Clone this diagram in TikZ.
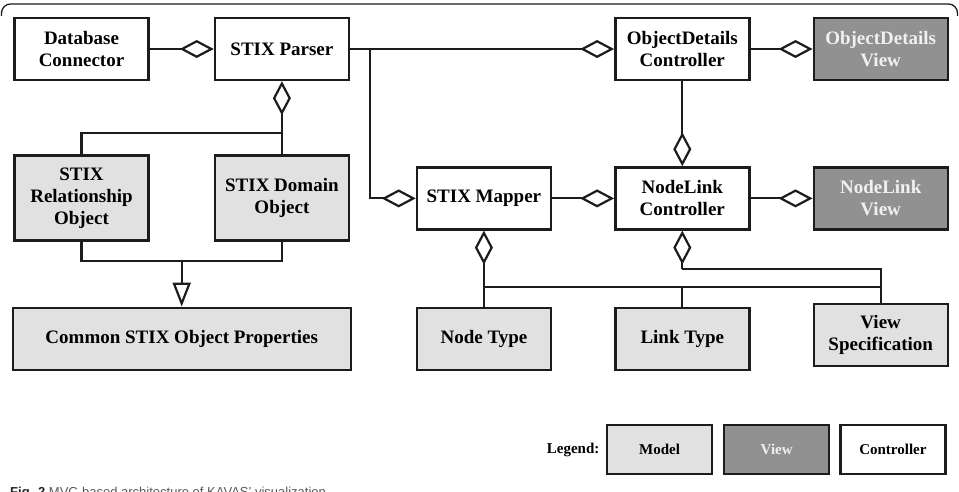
\documentclass[tikz,border=0pt]{standalone}
\usepackage{fontspec}
\setmainfont{Liberation Serif}
\setsansfont{Liberation Sans}
\usepackage{xcolor}
\usetikzlibrary{arrows.meta, positioning, calc}
\definecolor{modelfill}{RGB}{225,225,225}
\definecolor{viewfill}{RGB}{145,145,145}
\definecolor{edgeline}{RGB}{28,28,28}

\begin{document}
\begin{tikzpicture}[
  x=1pt, y=-1pt,
  box/.style     = {rectangle, draw=edgeline, line width=2.4pt, minimum width=134pt,
                    minimum height=62pt, align=center, inner sep=2pt,
                    font=\fontsize{19}{22}\selectfont\bfseries},
  ctrl/.style    = {box, fill=white},
  model/.style   = {box, fill=modelfill},
  view/.style    = {box, fill=viewfill, text=white!94!black},
  key/.style     = {rectangle, draw=edgeline, line width=2.2pt, minimum width=105pt,
                    minimum height=49pt, font=\fontsize{15}{18}\selectfont\bfseries},
  link/.style    = {draw=edgeline, line width=2.2pt},
  agg/.style     = {link, -{Diamond[length=34pt, width=18pt, fill=white, line join=miter]}},
  gen/.style     = {link, -{Triangle[length=24pt, width=18pt, fill=white, line join=miter]}},
]
\useasboundingbox (0,0) rectangle (959,492);

%% -- frame ------------------------------------------------------------
\draw[edgeline, line width=1.3pt, rounded corners=9pt]
  (1.5,16) -- (1.5,4) -- (957.5,4) -- (957.5,16);

%% -- top row ----------------------------------------------------------
\node[ctrl] (db) at (81.5,49) {Database\\Connector};
\node[ctrl,  right=64pt of db]      (parser) {STIX Parser};
\node[ctrl,  right=264pt of parser] (odc)    {ObjectDetails\\Controller};
\node[view,  right=62pt of odc]     (odv)    {ObjectDetails\\View};

%% -- STIX objects (left) ----------------------------------------------
\node[model, below=73pt of db, minimum height=85pt]     (rel) {STIX\\Relationship\\Object};
\node[model, below=73pt of parser, minimum height=85pt] (dom) {STIX Domain\\Object};

%% -- middle row -------------------------------------------------------
\node[ctrl,  below=85pt of odc]   (nlc)    {NodeLink\\Controller};
\node[view,  below=85pt of odv]   (nlv)    {NodeLink\\View};
\node[ctrl,  left=62pt of nlc]    (mapper) {STIX Mapper};

%% -- bottom row -------------------------------------------------------
\node[model, below=76pt of mapper] (ntype) {Node Type};
\node[model, below=76pt of nlc]    (ltype) {Link Type};
\node[model, below=72pt of nlv]    (vspec) {View\\Specification};

%% -- junctions --------------------------------------------------------
\coordinate (br) at ($(parser.east)+(20pt,0)$);
\coordinate (pj) at ($(parser.south)+(0,-52pt)$);
\coordinate (gj) at ($(rel.south)!0.5!(dom.south)+(0,-19pt)$);
\coordinate (mj) at ($(mapper.south)+(0,-56pt)$);
\coordinate (nj) at ($(nlc.south)+(0,-38pt)$);

\node[model, below=46pt of gj, minimum width=338pt] (common) {Common STIX Object Properties};

%% -- connectors -------------------------------------------------------
\draw[agg] (db) -- (parser);
\draw[agg] (parser) -- (odc);
\draw[agg] (odc) -- (odv);
\draw[agg] (br) |- (mapper.west);
\draw[agg] (odc) -- (nlc);
\draw[agg] (mapper) -- (nlc);
\draw[agg] (nlc) -- (nlv);

\draw[link] (rel.north) |- (pj);
\draw[link] (pj) -- (dom.north);
\draw[agg]  (pj) -- (parser);

\draw[link] (rel.south) |- (gj) -| (dom.south);
\draw[gen]  (gj) -- (common);

\draw[link] (ntype.north) -- (mj) -| (vspec.north);
\draw[link] (ltype.north) -- (ltype.north |- mj);
\draw[agg]  (mj) -- (mapper);
\draw[link] (nj) -| (vspec.north);
\draw[agg]  (nj) -- (nlc);

%% -- legend -----------------------------------------------------------
\node[key, fill=modelfill] (kmodel) at (659.5,449.5) {Model};
\node[key, fill=viewfill, text=white!94!black, right=10pt of kmodel] (kview) {View};
\node[key, fill=white, right=9pt of kview] (kctrl) {Controller};
\node[left=3pt of kmodel, font=\fontsize{15}{18}\selectfont\bfseries] (klabel) {Legend:};

%% -- caption (cut by the page edge, as in the source) ------------------
\node[anchor=base west, inner sep=0pt, text=black!65,
      font=\sffamily\fontsize{13}{15}\selectfont] (caption) at (10,496)
  {\textbf{\color{black!85}Fig. 2} MVC-based architecture of KAVAS' visualization};

\end{tikzpicture}
\end{document}
